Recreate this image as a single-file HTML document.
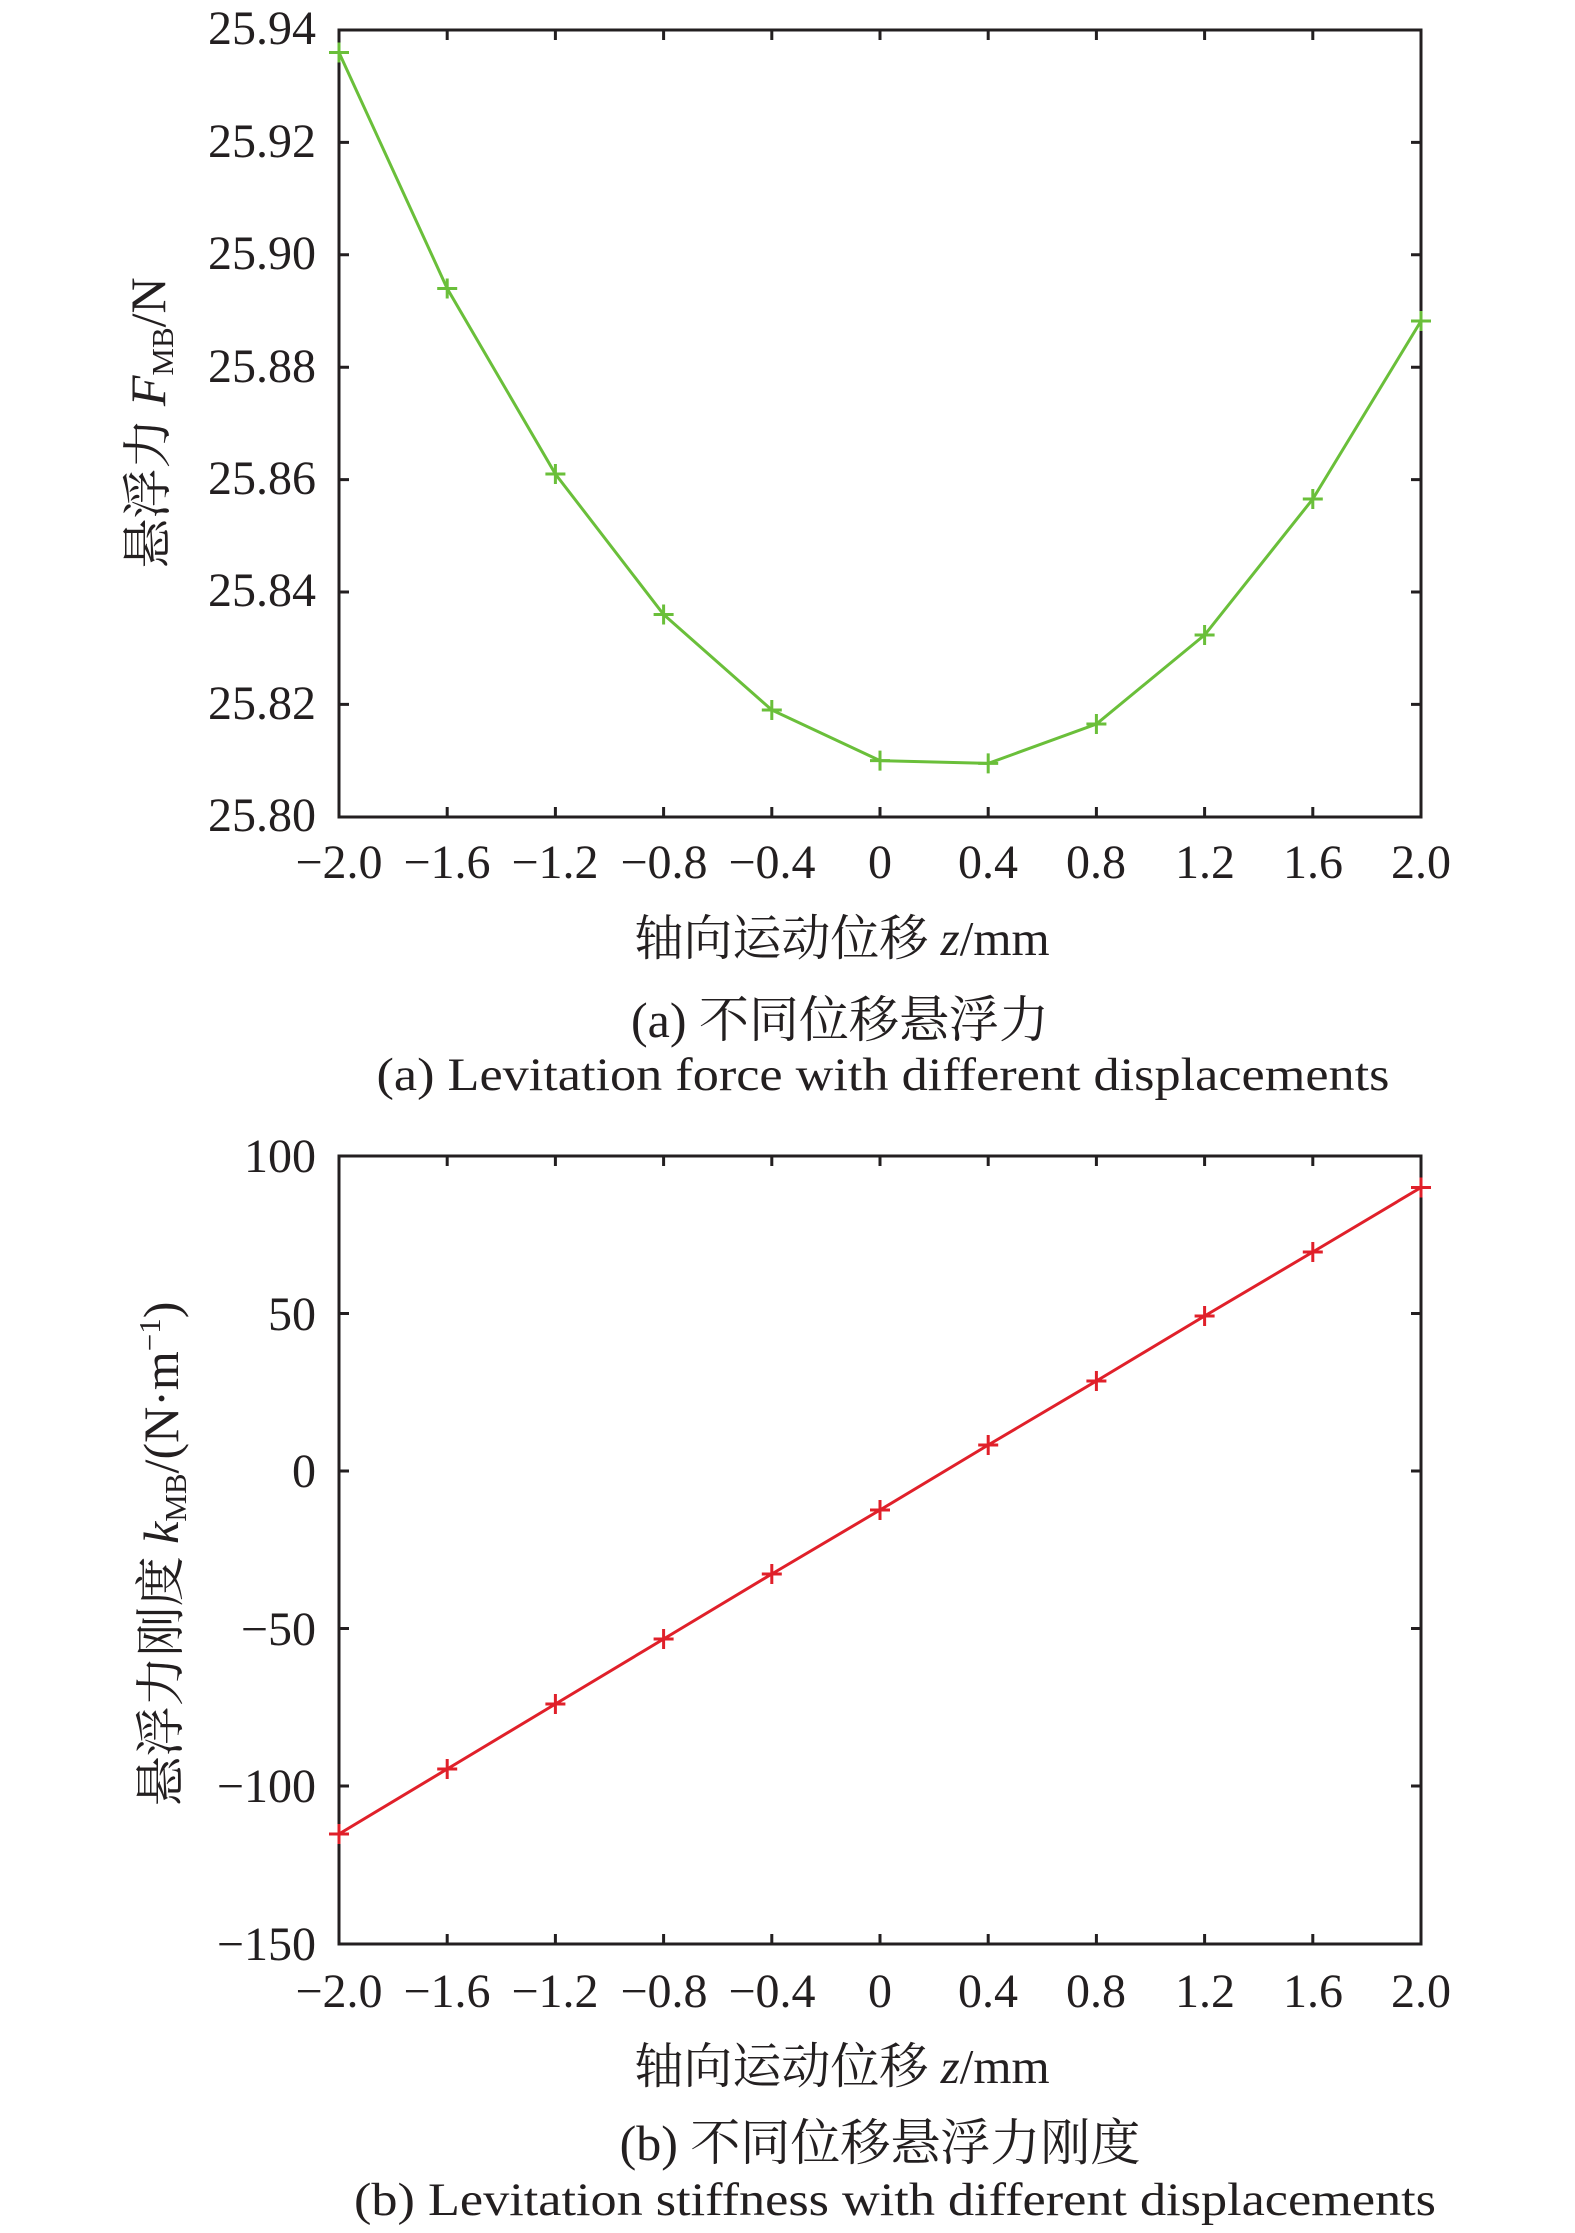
<!DOCTYPE html>
<html><head><meta charset="utf-8"><style>body{margin:0;background:#fff}svg{display:block}text{font-family:"Liberation Serif","Noto Serif CJK SC",serif;fill:#231f20}</style></head>
<body>
<svg width="1575" height="2233" viewBox="0 0 1575 2233" xmlns="http://www.w3.org/2000/svg">
<!-- Plot 1 -->
<g stroke="#231f20" stroke-width="3" fill="none">
<rect x="339" y="30" width="1082" height="787"/>
<path d="M447.2 817v-10M555.4 817v-10M663.6 817v-10M771.8 817v-10M880 817v-10M988.2 817v-10M1096.4 817v-10M1204.6 817v-10M1312.8 817v-10
M447.2 30v10M555.4 30v10M663.6 30v10M771.8 30v10M880 30v10M988.2 30v10M1096.4 30v10M1204.6 30v10M1312.8 30v10
M339 142.4h10M339 254.8h10M339 367.2h10M339 479.6h10M339 592h10M339 704.4h10
M1421 142.4h-10M1421 254.8h-10M1421 367.2h-10M1421 479.6h-10M1421 592h-10M1421 704.4h-10"/>
</g>
<g font-size="48" text-anchor="end">
<text x="316" y="44">25.94</text><text x="316" y="157">25.92</text><text x="316" y="269">25.90</text><text x="316" y="382">25.88</text><text x="316" y="494">25.86</text><text x="316" y="606">25.84</text><text x="316" y="719">25.82</text><text x="316" y="831">25.80</text>
</g>
<g font-size="48" text-anchor="middle">
<text x="339" y="878">−2.0</text><text x="447" y="878">−1.6</text><text x="555" y="878">−1.2</text><text x="664" y="878">−0.8</text><text x="772" y="878">−0.4</text><text x="880" y="878">0</text><text x="988" y="878">0.4</text><text x="1096" y="878">0.8</text><text x="1205" y="878">1.2</text><text x="1313" y="878">1.6</text><text x="1421" y="878">2.0</text>
</g>
<polyline fill="none" stroke="#6abf3a" stroke-width="3" points="339,52.5 447.2,288.5 555.4,474 663.6,614.5 771.8,710 880,760.6 988.2,763.4 1096.4,724 1204.6,635 1312.8,499 1421,321"/>
<g stroke="#6abf3a" stroke-width="3">
<path d="M329 52.5h20M339 42.5v20M437.2 288.5h20M447.2 278.5v20M545.4 474h20M555.4 464v20M653.6 614.5h20M663.6 604.5v20M761.8 710h20M771.8 700v20M870 760.6h20M880 750.6v20M978.2 763.4h20M988.2 753.4v20M1086.4 724h20M1096.4 714v20M1194.6 635h20M1204.6 625v20M1302.8 499h20M1312.8 489v20M1411 321h20M1421 311v20"/>
</g>
<text x="842" y="955" font-size="49" text-anchor="middle">轴向运动位移 <tspan font-style="italic">z</tspan>/mm</text>
<text x="840" y="1037" font-size="50" text-anchor="middle">(a) 不同位移悬浮力</text>
<text x="883" y="1090" font-size="47" text-anchor="middle" textLength="1013" lengthAdjust="spacingAndGlyphs">(a) Levitation force with different displacements</text>
<text transform="translate(165,423) rotate(-90)" font-size="50" text-anchor="middle">悬浮力 <tspan font-style="italic">F</tspan><tspan font-size="31" dy="8">MB</tspan><tspan dy="-8">/N</tspan></text>

<!-- Plot 2 -->
<g stroke="#231f20" stroke-width="3" fill="none">
<rect x="339" y="1156" width="1082" height="788"/>
<path d="M447.2 1944v-10M555.4 1944v-10M663.6 1944v-10M771.8 1944v-10M880 1944v-10M988.2 1944v-10M1096.4 1944v-10M1204.6 1944v-10M1312.8 1944v-10
M447.2 1156v10M555.4 1156v10M663.6 1156v10M771.8 1156v10M880 1156v10M988.2 1156v10M1096.4 1156v10M1204.6 1156v10M1312.8 1156v10
M339 1313.5h10M339 1471h10M339 1628.5h10M339 1786h10M1421 1313.5h-10M1421 1471h-10M1421 1628.5h-10M1421 1786h-10"/>
</g>
<g font-size="48" text-anchor="end">
<text x="316" y="1172">100</text><text x="316" y="1330">50</text><text x="316" y="1487">0</text><text x="316" y="1645">−50</text><text x="316" y="1802">−100</text><text x="316" y="1960">−150</text>
</g>
<g font-size="48" text-anchor="middle">
<text x="339" y="2007">−2.0</text><text x="447" y="2007">−1.6</text><text x="555" y="2007">−1.2</text><text x="664" y="2007">−0.8</text><text x="772" y="2007">−0.4</text><text x="880" y="2007">0</text><text x="988" y="2007">0.4</text><text x="1096" y="2007">0.8</text><text x="1205" y="2007">1.2</text><text x="1313" y="2007">1.6</text><text x="1421" y="2007">2.0</text>
</g>
<polyline fill="none" stroke="#e0202a" stroke-width="3" points="339,1834 447.2,1769 555.4,1704 663.6,1639 771.8,1574 880,1510 988.2,1445 1096.4,1381 1204.6,1316 1312.8,1252 1421,1187.5"/>
<g stroke="#e0202a" stroke-width="3">
<path d="M329 1834h20M339 1824v20M437.2 1769h20M447.2 1759v20M545.4 1704h20M555.4 1694v20M653.6 1639h20M663.6 1629v20M761.8 1574h20M771.8 1564v20M870 1510h20M880 1500v20M978.2 1445h20M988.2 1435v20M1086.4 1381h20M1096.4 1371v20M1194.6 1316h20M1204.6 1306v20M1302.8 1252h20M1312.8 1242v20M1411 1187.5h20M1421 1177.5v20"/>
</g>
<text x="842" y="2083" font-size="49" text-anchor="middle">轴向运动位移 <tspan font-style="italic">z</tspan>/mm</text>
<text x="880" y="2160" font-size="50" text-anchor="middle">(b) 不同位移悬浮力刚度</text>
<text x="895" y="2215" font-size="47" text-anchor="middle" textLength="1082" lengthAdjust="spacingAndGlyphs">(b) Levitation stiffness with different displacements</text>
<text transform="translate(178,1554) rotate(-90)" font-size="50" text-anchor="middle">悬浮力刚度 <tspan font-style="italic">k</tspan><tspan font-size="31" dy="8">MB</tspan><tspan dy="-8">/(N·m</tspan><tspan font-size="31" dy="-18">−1</tspan><tspan dy="18">)</tspan></text>
</svg>
</body></html>
